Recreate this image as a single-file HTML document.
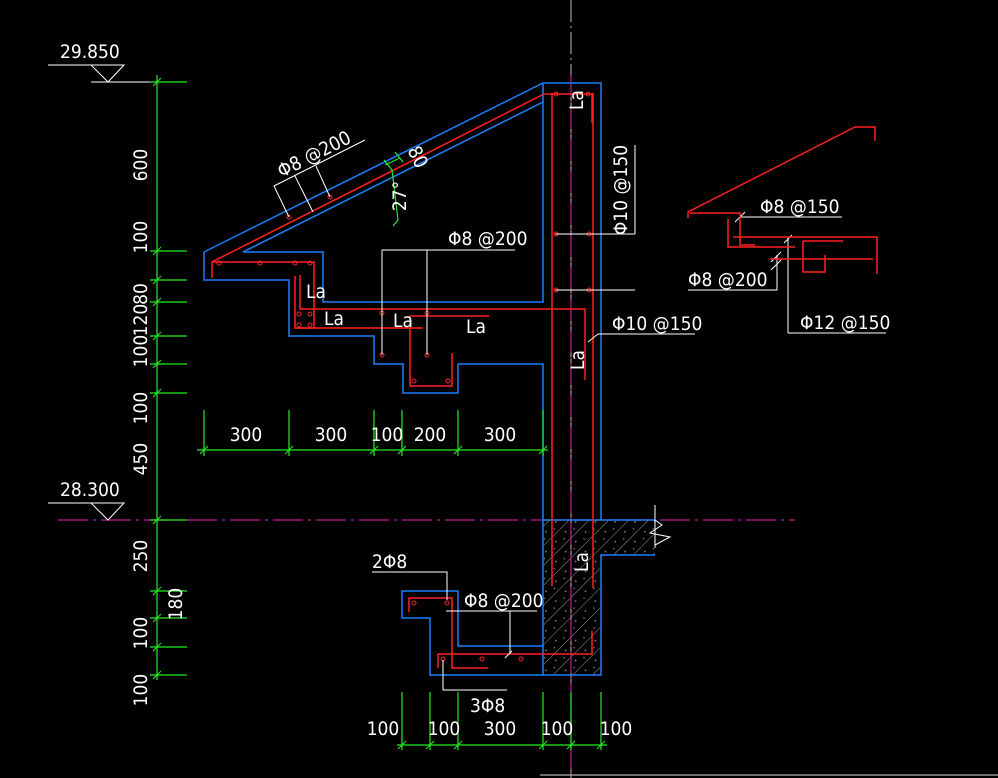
<!DOCTYPE html>
<html><head><meta charset="utf-8"><style>
html,body{margin:0;padding:0;background:#000;}
svg{display:block}
text{font-family:"Liberation Sans Narrow","DejaVu Sans Condensed","Liberation Sans",sans-serif;font-stretch:condensed;fill:#fff;font-size:19px}
</style></head><body>
<svg width="998" height="778" viewBox="0 0 998 778" xmlns="http://www.w3.org/2000/svg">
<rect width="998" height="778" fill="#000"/>
<defs>
<pattern id="h" width="14" height="14" patternUnits="userSpaceOnUse" patternTransform="rotate(45)">
<rect width="14" height="14" fill="#000"/><line x1="0" y1="0" x2="0" y2="14" stroke="#999" stroke-width="1"/>
<circle cx="6" cy="4" r="0.9" fill="#888"/><circle cx="10" cy="10" r="0.8" fill="#888"/>
</pattern>
</defs>
<path d="M543,520 H655 V555 H601 V675 H543 Z" fill="url(#h)"/>
<line x1="571" y1="0" x2="571" y2="778" stroke="#bbb" stroke-width="1" stroke-dasharray="22,4,2,4"/>
<line x1="571" y1="75" x2="571" y2="778" stroke="#c0189c" stroke-width="1.2" stroke-dasharray="22,4,2,4"/>
<line x1="58" y1="520" x2="795" y2="520" stroke="#c0189c" stroke-width="1.2" stroke-dasharray="30,5,3,5"/>
<line x1="540" y1="775" x2="998" y2="775" stroke="#ddd" stroke-width="1"/>

<g fill="none" stroke="#1a7fff" stroke-width="1.5">
<path d="M204,252 L543,83 H601 V520"/>
<path d="M204,252 V280 H289 V336 H374 V364 H403 V393 H458 V364 H543 V520"/>
<path d="M243,252 L543,102"/>
<path d="M243,252 H323 V302 H543 V83"/>
<path d="M543,520 V675 H601 V555 H655"/>
<path d="M543,520 H655"/>
<path d="M543,675 H430 V618 H402 V591 H458 V646 H543"/>
</g>
<path d="M655,505 V548 M655,520 L662,525 L650,533 L670,537 L655,545" fill="none" stroke="#fff" stroke-width="1"/>

<g fill="none" stroke="#ff2020" stroke-width="1.5">
<path d="M212,278 V262 L544,94 H592 V123"/>
<path d="M213,262 H314 V328 H295 V276"/>
<path d="M300,275 V309 H585 V380"/>
<path d="M295,328 H423"/>
<path d="M410,316 H489 M410,316 V386 H452 V353"/>
<path d="M552,93 V586 M593,93 V588"/>
<path d="M409,612 V598 H452 V668 H488"/>
<path d="M438,668 V654 H592 V631"/>
</g>
<g fill="none" stroke="#ff2020" stroke-width="1">
<circle cx="219" cy="263" r="2"/><circle cx="260" cy="263" r="2"/><circle cx="295" cy="263" r="2"/><circle cx="310" cy="263" r="2"/>
<circle cx="299" cy="314" r="2"/><circle cx="310" cy="314" r="2"/><circle cx="299" cy="325" r="2"/><circle cx="310" cy="325" r="2"/>
<circle cx="382" cy="313" r="2"/><circle cx="427" cy="313" r="2"/><circle cx="382" cy="355" r="2"/><circle cx="427" cy="355" r="2"/>
<circle cx="414" cy="381" r="2"/><circle cx="448" cy="381" r="2"/>
<circle cx="289" cy="217" r="2"/><circle cx="330" cy="197" r="2"/>
<circle cx="556" cy="94" r="2"/><circle cx="588" cy="94" r="2"/>
<circle cx="556" cy="234" r="2"/><circle cx="589" cy="234" r="2"/><circle cx="556" cy="290" r="2"/><circle cx="589" cy="290" r="2"/>
<circle cx="414" cy="603" r="2"/><circle cx="447" cy="603" r="2"/><circle cx="443" cy="659" r="2"/><circle cx="482" cy="659" r="2"/><circle cx="521" cy="659" r="2"/>
</g>

<g fill="none" stroke="#fff" stroke-width="1">
<path d="M274,186 L365,140 M274,186 L289,217 M295,176 L313,212 M316,166 L330,197"/>
<path d="M382,250 H515 M382,250 V355 M427,250 V355"/>
<path d="M555,234 H635 M555,290 H635 M635,234 V145"/>
<path d="M598,334 H695 M588,342 L598,334"/>
<path d="M372,572 H447 V600"/>
<path d="M446,611 H537 M510,611 V654 M505,658 L512,651"/>
<path d="M443,660 V690 H507"/>
<path d="M48,65 H124 L108,82 L91,65 M91,82 H157"/>
<path d="M48,503 H124 L108,520 L91,503"/>
<path d="M740,217 H842 M735,222 L745,212"/>
<path d="M688,290 H777 V255 M771,262 L781,252 M771,270 L781,260"/>
<path d="M788,333 H886 M788,333 V238 M784,243 L792,235"/>
</g>
<g fill="none" stroke="#ff2020" stroke-width="1.5">
<path d="M688,218 V212 L855,127 H875 V141"/>
<path d="M690,213 H740 V245 H755"/>
<path d="M728,219 V247 H795"/>
<path d="M733,237 H877 V274"/>
<path d="M770,259 H873"/>
<path d="M803,241 H843 M803,241 V272 H825 V255"/>
</g>

<g stroke="#22ee22" stroke-width="1.2" fill="none">
<line x1="157" y1="75" x2="157" y2="680"/>
<path d="M150,82 H187 M150,251 H187 M150,280 H187 M150,302 H187 M150,336 H187 M150,364 H187 M150,393 H187 M150,520 H187 M150,591 H187 M150,618 H187 M150,647 H187 M150,675 H187"/>
<line x1="197" y1="450" x2="548" y2="450"/>
<path d="M204,410 V456 M289,410 V456 M374,410 V456 M402,410 V456 M458,410 V456 M543,410 V456"/>
<line x1="397" y1="745" x2="607" y2="745"/>
<path d="M402,692 V750 M430,692 V750 M458,692 V750 M543,692 V750 M571,692 V750 M601,692 V750"/>
<path d="M384,160 L392,170 M395,152 L403,162 M385,165 L400,158 M392,170 L398,220 L393,226"/>
</g>
<g stroke="#22ee22" stroke-width="1">
<path d="M153,86 L161,78 M153,255 L161,247 M153,284 L161,276 M153,306 L161,298 M153,340 L161,332 M153,368 L161,360 M153,397 L161,389 M153,524 L161,516 M153,595 L161,587 M153,622 L161,614 M153,651 L161,643 M153,679 L161,671"/>
<path d="M200,454 L208,446 M285,454 L293,446 M370,454 L378,446 M398,454 L406,446 M454,454 L462,446 M539,454 L547,446"/>
<path d="M398,749 L406,741 M426,749 L434,741 M454,749 L462,741 M539,749 L547,741 M567,749 L575,741 M597,749 L605,741"/>
</g>

<text x="60" y="58">29.850</text>
<text x="60" y="496">28.300</text>
<g text-anchor="middle">
<text transform="translate(147,165) rotate(-90)">600</text>
<text transform="translate(147,237) rotate(-90)">100</text>
<text transform="translate(147,294) rotate(-90)">80</text>
<text transform="translate(147,320) rotate(-90)">120</text>
<text transform="translate(147,351) rotate(-90)">100</text>
<text transform="translate(147,408) rotate(-90)">100</text>
<text transform="translate(147,459) rotate(-90)">450</text>
<text transform="translate(147,556) rotate(-90)">250</text>
<text transform="translate(147,633) rotate(-90)">100</text>
<text transform="translate(147,690) rotate(-90)">100</text>
<text transform="translate(182,604) rotate(-90)">180</text>
<text x="246" y="441">300</text><text x="331" y="441">300</text><text x="387" y="441">100</text><text x="430" y="441">200</text><text x="500" y="441">300</text>
<text x="383" y="735">100</text><text x="444" y="735">100</text><text x="500" y="735">300</text><text x="557" y="735">100</text><text x="616" y="735">100</text>
<text transform="translate(317,160) rotate(-27)">Φ8 @200</text>
<text transform="translate(412,160) rotate(63)">80</text>
<text transform="translate(406,196) rotate(-90)">27°</text>
<text transform="translate(627,190) rotate(-90)">Φ10 @150</text>
</g>
<text x="448" y="245">Φ8 @200</text>
<text x="612" y="330">Φ10 @150</text>
<text x="372" y="568">2Φ8</text>
<text x="464" y="607">Φ8 @200</text>
<text x="470" y="712">3Φ8</text>
<text x="760" y="213">Φ8 @150</text>
<text x="688" y="286">Φ8 @200</text>
<text x="800" y="329">Φ12 @150</text>
<g font-size="16">
<text x="306" y="298">La</text><text x="324" y="325">La</text><text x="393" y="327">La</text><text x="466" y="333">La</text>
<text transform="translate(583,110) rotate(-90)">La</text>
<text transform="translate(584,370) rotate(-90)">La</text>
<text transform="translate(588,572) rotate(-90)">La</text>
</g>
</svg>
</body></html>
